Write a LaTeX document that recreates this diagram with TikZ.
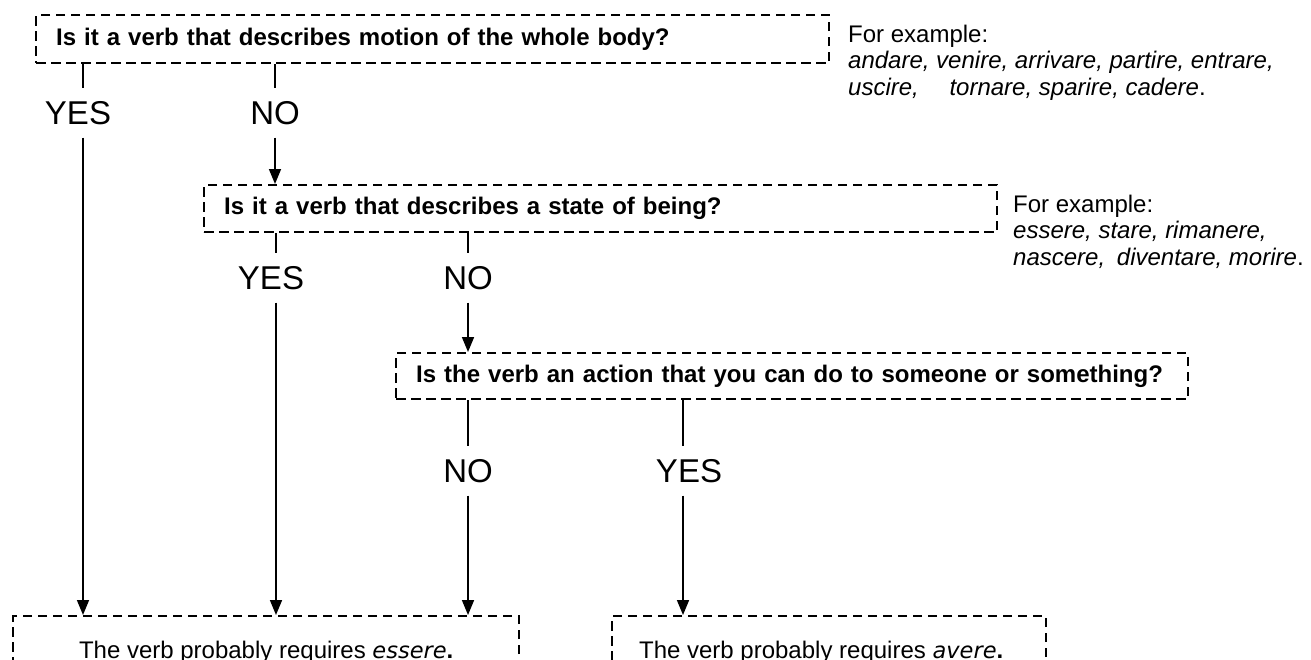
\documentclass[tikz,border=0pt]{standalone}
\usepackage{fontspec}
\setmainfont{Liberation Sans}
\newfontfamily\oblfont{DejaVu Sans}
\usetikzlibrary{arrows.meta}
\begin{document}
\begin{tikzpicture}[x=1pt,y=-1pt,
  dashbox/.style={draw, line width=2.4pt, dash pattern=on 9.5pt off 5.5pt},
  qbox/.style={dashbox, anchor=north west, inner xsep=20pt, inner ysep=0pt, align=left,
    font=\fontsize{24}{28}\selectfont\bfseries},
  rbox/.style={dashbox, anchor=north west, inner sep=0pt, minimum height=72pt,
    font=\fontsize{24}{28}\selectfont},
  lab/.style={anchor=base, inner xsep=0pt, inner ysep=13pt, font=\fontsize{33}{36}\selectfont},
  note/.style={anchor=north west, align=left, inner sep=0pt, font=\fontsize{24}{26.5}\selectfont},
  stub/.style={line width=1.6pt},
  arr/.style={line width=1.6pt, -{Triangle[length=15pt,width=12pt]}}
]
\useasboundingbox (0,0) rectangle (1311,659);
\clip (0,0) rectangle (1311,659);

% question boxes
\node[qbox, text width=753pt, minimum height=48pt] (q1) at (35,14)
  {Is it a verb that describes motion of the whole body?};
\node[qbox, text width=753pt, minimum height=47pt] (q2) at (203,184)
  {Is it a verb that describes a state of being?};
\node[qbox, text width=752pt, minimum height=46pt] (q3) at (395,352)
  {Is the verb an action that you can do to someone or something?};

% result boxes
\node[rbox, minimum width=506pt] (r1) at (12,615)
  {The verb probably requires {\fontsize{22.5}{28}\selectfont\oblfont\itshape essere}\textbf{.}};
\node[rbox, minimum width=434pt] (r2) at (611,615)
  {The verb probably requires {\fontsize{22.5}{28}\selectfont\oblfont\itshape avere}\textbf{.}\hspace*{16pt}};

% notes
\node[note] (n1note) at (848,24.5)
  {For example:\\
   \textit{andare, venire, arrivare, partire, entrare,}\\
   \textit{uscire,\hspace*{24pt} tornare, sparire, cadere}.};
\node[note] (n2note) at (1013,194.5)
  {For example:\\
   \textit{essere, stare, rimanere,}\\
   \textit{nascere,\hspace*{5pt} diventare, morire}.};

% labels
\node[lab] (y1) at (83,124) {\hspace*{-10pt}YES};
\node[lab] (n1) at (275,124) {NO};
\node[lab] (y2) at (276,289) {\hspace*{-10pt}YES};
\node[lab] (n2) at (468,289) {NO};
\node[lab] (n3) at (468,482) {NO};
\node[lab] (y3) at (683,482) {YES\hspace*{-12pt}};

% connectors
\draw[stub] (q1.south -| y1) -- (y1.north);
\draw[arr]  (y1.south) -- (r1.north -| y1);
\draw[stub] (q1.south -| n1) -- (n1.north);
\draw[arr]  (n1.south) -- (q2.north -| n1);

\draw[stub] (q2.south -| y2) -- (y2.north);
\draw[arr]  (y2.south) -- (r1.north -| y2);
\draw[stub] (q2.south -| n2) -- (n2.north);
\draw[arr]  (n2.south) -- (q3.north -| n2);

\draw[stub] (q3.south -| n3) -- (n3.north);
\draw[arr]  (n3.south) -- (r1.north -| n3);
\draw[stub] (q3.south -| y3) -- (y3.north);
\draw[arr]  (y3.south) -- (r2.north -| y3);
\end{tikzpicture}
\end{document}
